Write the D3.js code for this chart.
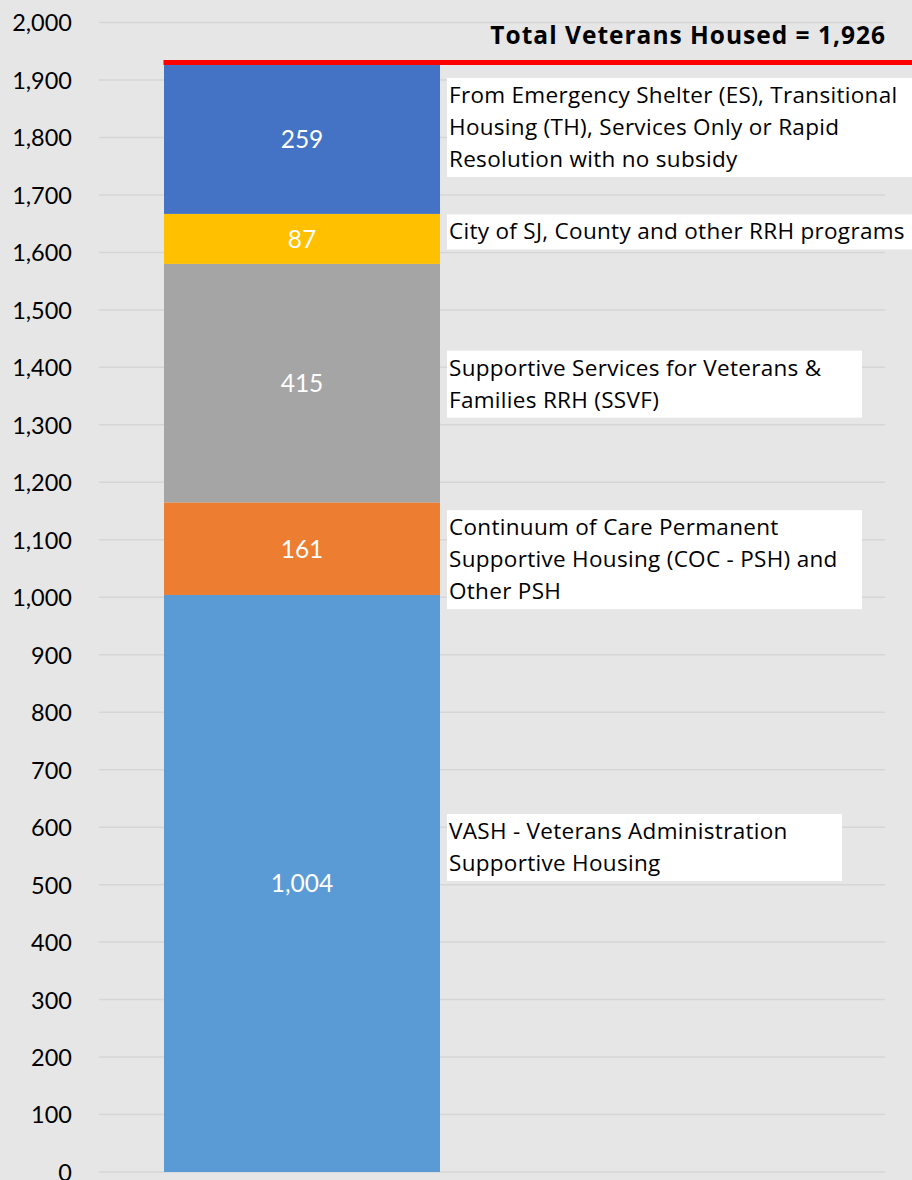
<!DOCTYPE html>
<html>
<head>
<meta charset="utf-8">
<script src="https://cdn.jsdelivr.net/npm/d3@7"></script>
<style>
  body { margin: 0; background: #e6e6e6; }
  svg { display: block; font-family: Lato, "Open Sans", sans-serif; font-variant-ligatures: none; }
</style>
</head>
<body>
<svg id="chart" width="912" height="1180"></svg>
<script>
// data, bottom to top
const category = ["Veterans Housed"];
const segments = ["VASH", "COC-PSH", "SSVF", "RRH", "ES/TH"];
const counts = [1004, 161, 415, 87, 259];
const colours = ["#5b9bd5", "#ed7d31", "#a5a5a5", "#ffc000", "#4472c4"];
const labelLines = [
  ["VASH - Veterans Administration", "Supportive Housing"],
  ["Continuum of Care Permanent", "Supportive Housing (COC - PSH) and", "Other PSH"],
  ["Supportive Services for Veterans &", "Families RRH (SSVF)"],
  ["City of SJ, County and other RRH programs"],
  ["From Emergency Shelter (ES), Transitional", "Housing (TH), Services Only or Rapid", "Resolution with no subsidy"]
];
const yTicks = d3.range(0, 2001, 100);
const total = d3.sum(counts);

// layout of the label boxes (pixels), kept apart from the data
const boxOffset = [-36, 11, 1, -7, -12]; // box centre vs segment centre
const boxWidth = [395, 415, 415, 470, 470];
const lineH = 32;
const labelFont = "'Open Sans', sans-serif";

const svg = d3.select("#chart");

const y = d3.scaleLinear().domain([0, 2000]).range([1172, 22.5]);
const x = d3.scaleBand().domain(category).range([164, 440]).padding(0);

// stacked values
let acc = 0;
const stacked = counts.map((v, i) => {
  const d = { key: segments[i], v, y0: acc, y1: acc + v, i };
  acc += v;
  return d;
});

// grid
svg.append("g")
  .selectAll("line")
  .data(yTicks)
  .join("line")
  .attr("x1", 99).attr("x2", 885)
  .attr("y1", d => y(d)).attr("y2", d => y(d))
  .attr("stroke", "#d6d6d6")
  .attr("stroke-width", 1.5);

// y axis
const axis = svg.append("g")
  .attr("transform", "translate(72,0)")
  .call(d3.axisLeft(y).tickValues(yTicks).tickFormat(d3.format(",")).tickSize(0).tickPadding(0));
axis.select(".domain").remove();
axis.selectAll("text")
  .attr("font-family", "Lato, sans-serif")
  .attr("font-size", 23.5)
  .attr("fill", "#000")
  .attr("dy", "0.36em");

// bars
svg.append("g")
  .selectAll("rect")
  .data(stacked)
  .join("rect")
  .attr("x", x(category[0]))
  .attr("width", x.bandwidth())
  .attr("y", d => y(d.y1))
  .attr("height", d => y(d.y0) - y(d.y1))
  .attr("fill", (d) => colours[d.i]);

// values inside bars
svg.append("g")
  .selectAll("text")
  .data(stacked)
  .join("text")
  .attr("x", x(category[0]) + x.bandwidth() / 2)
  .attr("y", d => y((d.y0 + d.y1) / 2))
  .attr("dy", "0.36em")
  .attr("text-anchor", "middle")
  .attr("font-size", 24.5)
  .attr("fill", "#fff")
  .text(d => d3.format(",")(d.v));

// total line
svg.append("line")
  .attr("x1", x(category[0]) - 0.5)
  .attr("x2", 912)
  .attr("y1", y(total) - 2.5)
  .attr("y2", y(total) - 2.5)
  .attr("stroke", "#ff0000")
  .attr("stroke-width", 5);

svg.append("text")
  .attr("x", 886)
  .attr("y", y(total) - 21)
  .attr("text-anchor", "end")
  .attr("font-family", labelFont)
  .attr("font-size", 24.5)
  .attr("letter-spacing", 1)
  .attr("font-weight", "bold")
  .attr("fill", "#000")
  .text("Total Veterans Housed = " + d3.format(",")(total));

// label boxes
const boxes = svg.append("g")
  .selectAll("g")
  .data(stacked)
  .join("g")
  .attr("transform", d => {
    const n = labelLines[d.i].length;
    const h = n * lineH + 3;
    const cy = y((d.y0 + d.y1) / 2) + boxOffset[d.i];
    return `translate(447,${cy - h / 2})`;
  });

boxes.append("rect")
  .attr("width", d => boxWidth[d.i])
  .attr("height", d => labelLines[d.i].length * lineH + 3)
  .attr("fill", "#fff");

boxes.selectAll("text")
  .data(d => labelLines[d.i])
  .join("text")
  .attr("x", 2)
  .attr("y", (t, j) => 25 + j * lineH)
  .attr("font-family", labelFont)
  .attr("font-size", 22.5)
  .attr("letter-spacing", 0.3)
  .attr("fill", "#000")
  .text(t => t);
</script>
</body>
</html>
